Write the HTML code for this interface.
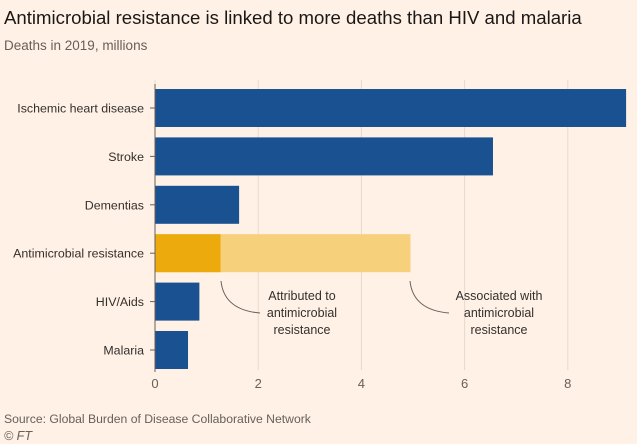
<!DOCTYPE html>
<html><head><meta charset="utf-8"><style>
body{margin:0;background:#fff1e5;}
svg{display:block;font-family:"Liberation Sans",sans-serif;}
</style></head><body>
<svg id="c" width="637" height="444">
<rect width="637" height="444" fill="#fff1e5"/>
<text x="4" y="24" font-size="18.6" fill="#1a1817">Antimicrobial resistance is linked to more deaths than HIV and malaria</text>
<text x="4" y="50" font-size="13.5" fill="#66605c">Deaths in 2019, millions</text>
<g id="grid"></g><g id="bars"></g><g id="labels"></g><g id="ticks"></g>
<path d="M221,281 Q224,310 260,313" fill="none" stroke="#66605c" stroke-width="1"/>
<path d="M410,281 Q413,310 449,313" fill="none" stroke="#66605c" stroke-width="1"/>
<text font-size="12.5" fill="#33302e" text-anchor="middle"><tspan x="302" y="300">Attributed to</tspan><tspan x="302" y="317">antimicrobial</tspan><tspan x="302" y="334">resistance</tspan></text>
<text font-size="12.5" fill="#33302e" text-anchor="middle"><tspan x="499" y="300">Associated with</tspan><tspan x="499" y="317">antimicrobial</tspan><tspan x="499" y="334">resistance</tspan></text>
<text x="4" y="423" font-size="12.2" fill="#66605c">Source: Global Burden of Disease Collaborative Network</text>
<text x="4" y="440" font-size="12.5" fill="#66605c" font-style="italic">© FT</text>
</svg>
<script>
const categories=["Ischemic heart disease","Stroke","Dementias","Antimicrobial resistance","HIV/Aids","Malaria"];
const attributed=[9.13,6.55,1.63,1.27,0.86,0.64];
const associated=[null,null,null,4.95,null,null];
const ticks=[0,2,4,6,8];
const NS="http://www.w3.org/2000/svg";
const x0=155,ppu=51.6,y0=89,step=48.4,bh=38;
const xs=v=>x0+v*ppu, ys=i=>y0+i*step;
function mk(t,a,p){const e=document.createElementNS(NS,t);for(const k in a)e.setAttribute(k,a[k]);document.getElementById(p).appendChild(e);return e;}
ticks.forEach(t=>{
 const g=mk("line",{x1:xs(t),x2:xs(t),y1:80,y2:370,stroke:"#e6d9ce","stroke-width":1},"grid");
 
 
 const tx=mk("text",{x:xs(t),y:388,"font-size":13,fill:"#66605c","text-anchor":"middle"},"ticks");
 tx.textContent=t;
 
 
});
categories.forEach((c,i)=>{
 const y=ys(i);
 if(associated[i]!=null){
  const r2=mk("rect",{x:x0,y:y,width:xs(associated[i])-x0,height:bh,fill:"#f6d07a"},"bars");
  
  
 }
 const r=mk("rect",{x:x0,y:y,width:xs(attributed[i])-x0,height:bh,fill:associated[i]!=null?"#ecaa0c":"#1a5190"},"bars");
 
 
 const tk=mk("line",{x1:150,x2:155,y1:y+bh/2,y2:y+bh/2,stroke:"#66605c"},"labels");
 
 
 const l=mk("text",{x:144,y:y+bh/2+4.5,"font-size":12.4,fill:"#33302e","text-anchor":"end"},"labels");
 l.textContent=c;
 
 
});
const ax=mk("line",{x1:155,x2:155,y1:84,y2:372,stroke:"#66605c"},"labels");


</script>
</body></html>
